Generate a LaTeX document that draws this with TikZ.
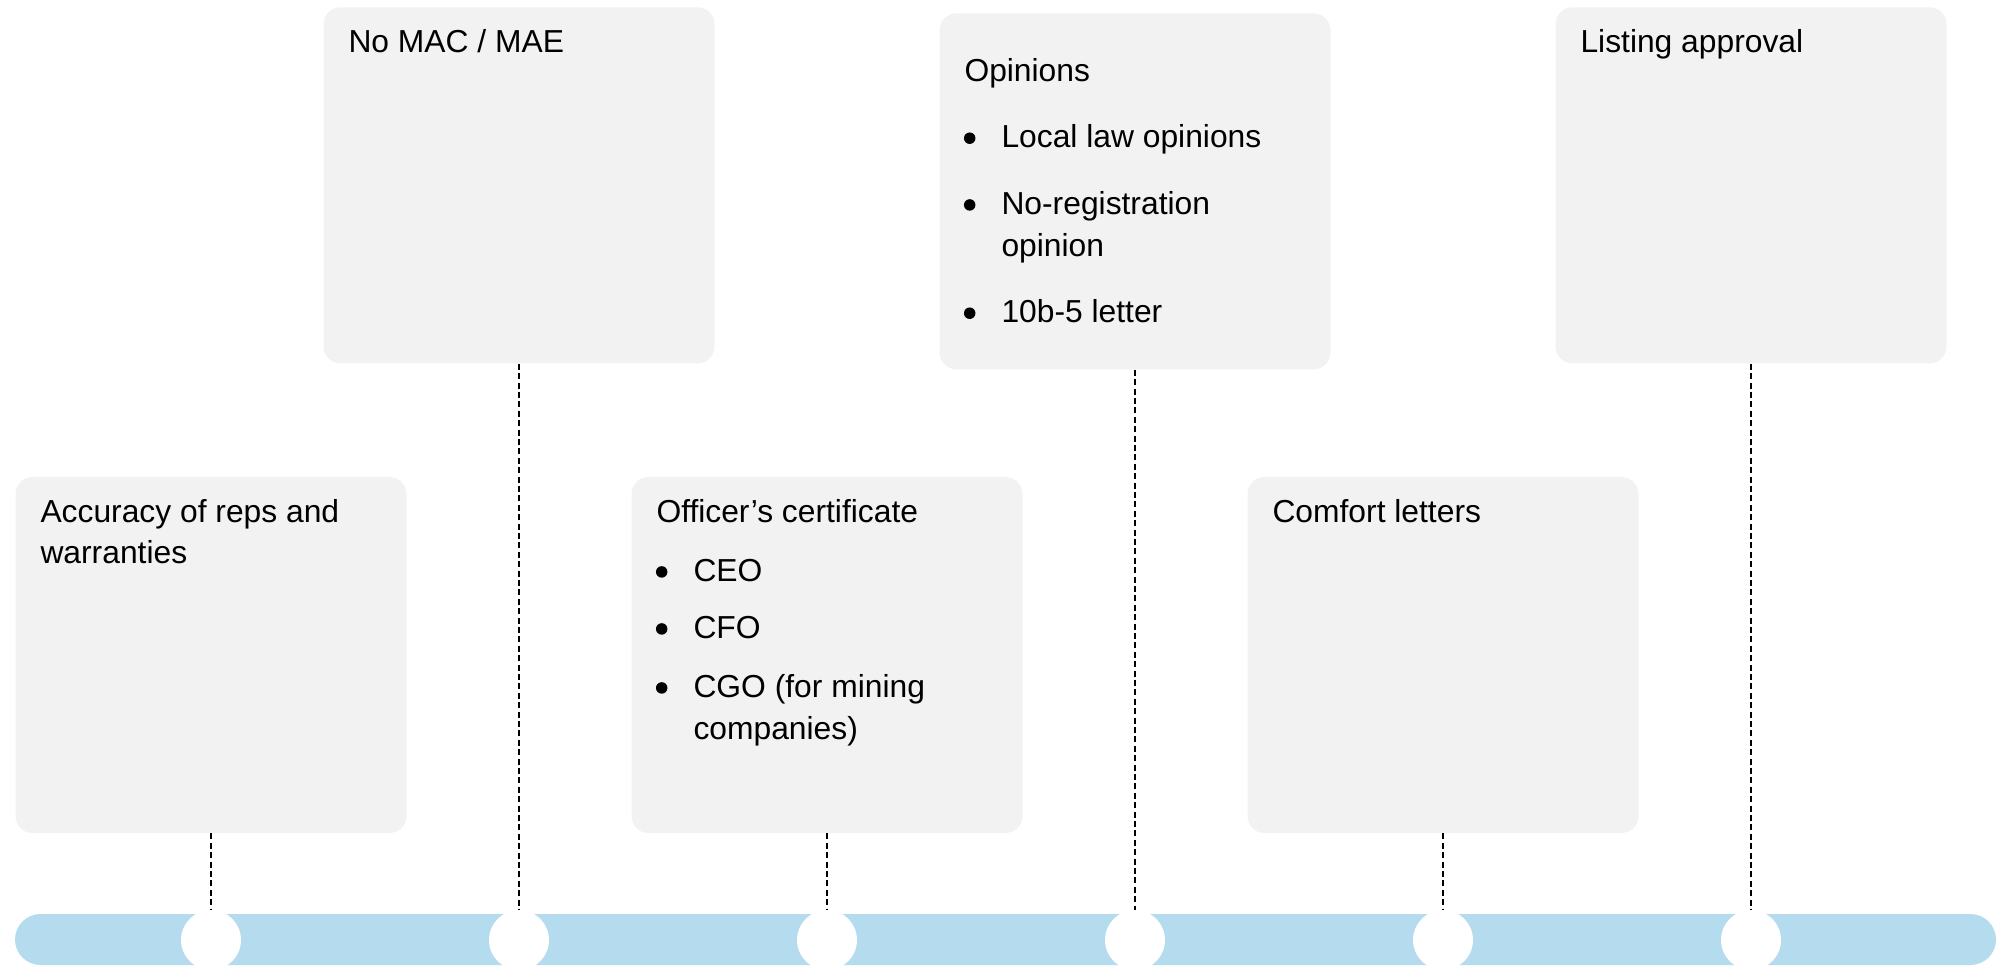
\documentclass[tikz,border=0pt]{standalone}
\usepackage{fontspec}
\setmainfont{Liberation Sans}
\definecolor{boxgray}{HTML}{F2F2F2}
\definecolor{barblue}{RGB}{181,219,239}
\begin{document}
\begin{tikzpicture}[x=0.5pt,y=-0.5pt,
  card/.style={fill=boxgray, draw=none, rounded corners=8.5pt, minimum width=195.5pt, minimum height=178pt, inner sep=0pt},
  lbl/.style={anchor=base west, inner sep=0pt, font=\fontsize{15.9}{19}\selectfont},
  bul/.style={circle, fill=black, draw=none, minimum size=5.75pt, inner sep=0pt},
  connector/.style={draw=black, line width=0.6pt, dash pattern=on 3pt off 1.7pt},
  dot/.style={circle, fill=white, draw=none, minimum size=30pt, inner sep=0pt}]
\useasboundingbox (0,0) rectangle (2006,965);

% timeline bar
\node (bar) [fill=barblue, draw=none, rounded corners=12.75pt, minimum width=990.5pt, minimum height=25.5pt, inner sep=0pt] at (1005.5,939.5) {};

% milestone circles
\node[dot] (c1) at (211,940) {};
\node[dot] (c2) at (519,940) {};
\node[dot] (c3) at (827,940) {};
\node[dot] (c4) at (1135,940) {};
\node[dot] (c5) at (1443,940) {};
\node[dot] (c6) at (1751,940) {};

% cards
\node[card] (b1) at (211,655) {};
\node[card] (b2) at (519,185.3) {};
\node[card] (b3) at (827,655) {};
\node[card] (b4) at (1135,191.3) {};
\node[card] (b5) at (1443,655) {};
\node[card] (b6) at (1751,185.3) {};

% connectors
\draw[connector] (b1.south) -- (c1.north);
\draw[connector] (b2.south) -- (c2.north);
\draw[connector] (b3.south) -- (c3.north);
\draw[connector] (b4.south) -- (c4.north);
\draw[connector] (b5.south) -- (c5.north);
\draw[connector] (b6.south) -- (c6.north);

% texts
\node[lbl] (t1a) at ([shift={(25,46)}]b1.north west) {Accuracy of reps and};
\node[lbl] (t1b) at ([shift={(25,87)}]b1.north west) {warranties};

\node[lbl] (t2a) at ([shift={(25,46)}]b2.north west) {No MAC / MAE};

\node[lbl] (t3a) at ([shift={(25,46)}]b3.north west) {Officer’s certificate};
\node[bul] (t3b) at ([shift={(30.6,95.3)}]b3.north west) {};
\node[lbl] (t3c) at ([shift={(62,105)}]b3.north west) {CEO};
\node[bul] (t3d) at ([shift={(30.6,152.3)}]b3.north west) {};
\node[lbl] (t3e) at ([shift={(62,162)}]b3.north west) {CFO};
\node[bul] (t3f) at ([shift={(30.6,211.3)}]b3.north west) {};
\node[lbl] (t3g) at ([shift={(62,221)}]b3.north west) {CGO (for mining};
\node[lbl] (t3h) at ([shift={(62,263)}]b3.north west) {companies)};

\node[lbl] (t4a) at ([shift={(25,68.4)}]b4.north west) {Opinions};
\node[bul] (t4b) at ([shift={(30.6,125.3)}]b4.north west) {};
\node[lbl] (t4c) at ([shift={(62,135)}]b4.north west) {Local law opinions};
\node[bul] (t4d) at ([shift={(30.6,192)}]b4.north west) {};
\node[lbl] (t4e) at ([shift={(62,201.7)}]b4.north west) {No-registration};
\node[lbl] (t4f) at ([shift={(62,243.4)}]b4.north west) {opinion};
\node[bul] (t4g) at ([shift={(30.6,300.3)}]b4.north west) {};
\node[lbl] (t4h) at ([shift={(62,310)}]b4.north west) {10b-5 letter};

\node[lbl] (t5a) at ([shift={(25,46)}]b5.north west) {Comfort letters};

\node[lbl] (t6a) at ([shift={(25,46)}]b6.north west) {Listing approval};
\end{tikzpicture}
\end{document}
